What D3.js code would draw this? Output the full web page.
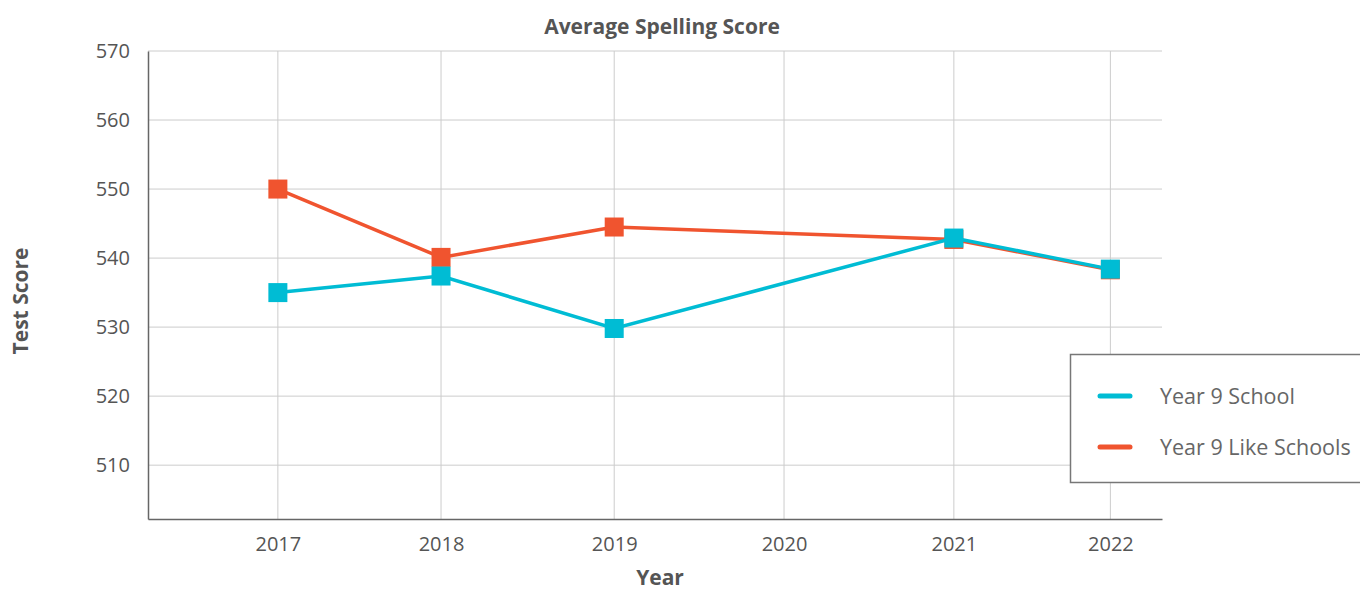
<!DOCTYPE html>
<html>
<head>
    <meta charset="utf-8">
    <title>Average Spelling Score</title>
    <script src="https://d3js.org/d3.v7.min.js"></script>
    <style>
        body {
            margin: 0;
            font-family: "Open Sans", Arial, sans-serif;
            overflow: hidden;
            background: #fff;
        }
        .grid line {
            stroke: #cccccc;
            stroke-width: 1px;
        }
        .tick text {
            font-family: "Open Sans", Arial, sans-serif;
            font-size: 20px;
            fill: #555;
        }
        .title {
            font-size: 21px;
            font-weight: bold;
            fill: #555;
        }
        .legend text {
            font-size: 21.5px;
            fill: #666;
        }
    </style>
</head>
<body>
    <svg width="1360" height="590"></svg>

    <script>
    // 데이터
    const years = ["2017", "2018", "2019", "2020", "2021", "2022"];
    // 축 위의 위치 (그림에서 읽은 값, 간격이 균일하지 않음)
    const yearPos = [2017.0, 2017.98, 2019.02, 2020.04, 2021.06, 2022.0];
    const schoolScores = [535.0, 537.4, 529.8, null, 542.9, 538.4];
    const likeSchoolScores = [550.0, 540.1, 544.5, null, 542.7, 538.3];
    const yTicks = [510, 520, 530, 540, 550, 560, 570];

    const series = [
        { name: "Year 9 Like Schools", color: "#f0542f", values: likeSchoolScores },
        { name: "Year 9 School", color: "#00bcd4", values: schoolScores }
    ];

    let svg = d3.select("svg");
    const plotLeft = 148, plotRight = 1162, plotTop = 51, plotBottom = 519;

    let x = d3.scaleLinear().domain([2016.22, 2022.31]).range([plotLeft, plotRight]);
    let y = d3.scaleLinear().domain([502.2, 570]).range([plotBottom, plotTop]);

    // 그리드
    svg.append("g")
        .attr("class", "grid")
        .selectAll("line.h")
        .data(yTicks)
        .enter().append("line")
        .attr("x1", plotLeft).attr("x2", plotRight)
        .attr("y1", d => y(d)).attr("y2", d => y(d));

    svg.append("g")
        .attr("class", "grid")
        .selectAll("line.v")
        .data(yearPos)
        .enter().append("line")
        .attr("x1", d => x(d)).attr("x2", d => x(d))
        .attr("y1", plotTop).attr("y2", plotBottom);

    // 축
    let xAxis = svg.append("g")
        .attr("transform", `translate(0,${plotBottom})`)
        .call(d3.axisBottom(x).tickValues(yearPos).tickSize(0).tickPadding(18)
            .tickFormat((d, i) => years[i]));
    xAxis.select(".domain").attr("stroke", "#666").attr("stroke-width", 1.5);

    let yAxis = svg.append("g")
        .attr("transform", `translate(${plotLeft},0)`)
        .call(d3.axisLeft(y).tickValues(yTicks).tickSize(0).tickPadding(18));
    yAxis.select(".domain").attr("stroke", "#666").attr("stroke-width", 1.5);
    yAxis.selectAll(".tick text").attr("dy", "0.32em");

    // 제목
    svg.append("text").attr("class", "title")
        .attr("x", 662).attr("y", 34)
        .attr("text-anchor", "middle")
        .text("Average Spelling Score");

    svg.append("text").attr("class", "title")
        .attr("x", 660).attr("y", 585)
        .attr("text-anchor", "middle")
        .text("Year");

    svg.append("text").attr("class", "title")
        .attr("transform", `translate(28,${(plotTop + plotBottom) / 2 + 16}) rotate(-90)`)
        .attr("text-anchor", "middle")
        .text("Test Score");

    // 선과 마커
    let line = d3.line()
        .x(d => x(d.x))
        .y(d => y(d.v));

    series.forEach(s => {
        const pts = s.values.map((v, i) => ({ x: yearPos[i], v: v }));
        const valid = pts.filter(p => p.v !== null);
        svg.append("path")
            .datum(valid)
            .attr("fill", "none")
            .attr("stroke", s.color)
            .attr("stroke-width", 3.5)
            .attr("d", line);
        svg.append("g")
            .selectAll("rect")
            .data(valid)
            .enter().append("rect")
            .attr("x", d => x(d.x) - 9.5)
            .attr("y", d => y(d.v) - 9.5)
            .attr("width", 19)
            .attr("height", 19)
            .attr("fill", s.color);
    });

    // 범례
    let legend = svg.append("g").attr("class", "legend")
        .attr("transform", "translate(1070,354)");
    legend.append("rect")
        .attr("x", 0.5).attr("y", 0.5)
        .attr("width", 320).attr("height", 128)
        .attr("fill", "#fff")
        .attr("stroke", "#777")
        .attr("stroke-width", 1.5);

    const legendItems = [series[1], series[0]];
    legendItems.forEach((s, i) => {
        const ly = 42 + i * 51;
        legend.append("line")
            .attr("x1", 30).attr("x2", 60)
            .attr("y1", ly).attr("y2", ly)
            .attr("stroke", s.color)
            .attr("stroke-width", 5)
            .attr("stroke-linecap", "round");
        legend.append("text")
            .attr("x", 90).attr("y", ly)
            .attr("dy", "0.35em")
            .text(s.name);
    });
    </script>
</body>
</html>
